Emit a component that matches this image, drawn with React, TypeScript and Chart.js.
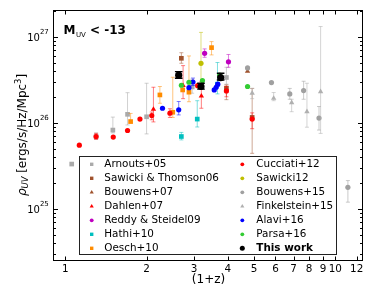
import React, { useEffect, useRef } from 'react';
import { Chart, registerables } from 'chart.js';

Chart.register(...registerables);

type Pt = [number, number, number | null, number | null];

// [1+z, rho_UV, lower, upper]
const arnouts05: Pt[] = [
  [1.056, 3.3e25, null, null],
  [1.30, 6.9e25, 6.4e25, 7.6e25],
  [1.50, 8.2e25, 7.6e25, 1.16e26],
  [1.70, 1.25e26, 9.4e25, 2.23e26],
  [2.0, 1.17e26, 7.4e25, 2.87e26],
  [2.95, 2.6e26, 2.2e26, 3.2e26],
  [3.95, 3.35e26, 2.8e26, 4.4e26],
];
const sawicki06: Pt[] = [
  [2.69, 5.6e26, 4.9e26, 6.5e26],
  [3.95, 2.5e26, 1.85e26, 2.75e26],
  [4.92, 1.15e26, 4.4e25, 2.5e26],
];
const bouwens07: Pt[] = [
  [4.73, 3.96e26, null, null],
];
const dahlen07: Pt[] = [
  [2.12, 1.43e26, 1.02e26, 2.58e26],
  [2.73, 2.7e26, 1.9e26, 4.6e26],
  [3.19, 2.04e26, 1.47e26, 3.0e26],
];
const reddy09: Pt[] = [
  [3.28, 6.4e26, 5.75e26, 7.2e26],
  [4.02, 5.1e26, 4.4e26, 6.2e26],
];
const hathi10: Pt[] = [
  [2.69, 6.9e25, 6.3e25, 7.7e25],
  [3.08, 1.10e26, 8.9e25, 1.8e26],
  [3.66, 2.8e26, 2.16e26, 5.0e26],
];
const oesch10: Pt[] = [
  [1.745, 1.03e26, 9.9e25, 1.28e26],
  [2.24, 2.1e26, 1.68e26, 2.63e26],
  [2.50, 1.32e26, 1.15e26, 3.37e26],
  [2.72, 2.4e26, null, null],
  [2.87, 2.26e26, 1.75e26, 5.96e26],
  [3.48, 7.45e26, 6.13e26, 8.75e26],
];
const cucciati12: Pt[] = [
  [1.127, 5.47e25, null, null],
  [1.30, 6.9e25, 6.4e25, 7.5e25],
  [1.505, 6.8e25, null, null],
  [1.70, 8.1e25, null, null],
  [1.89, 1.10e26, null, null],
  [2.09, 1.21e26, 1.08e26, 1.33e26],
  [2.44, 1.29e26, 1.15e26, 1.45e26],
  [3.09, 2.69e26, null, null],
  [3.95, 2.34e26, 2.0e26, 2.65e26],
  [4.92, 1.10e26, 8.5e25, 1.3e26],
];
const sawicki12: Pt[] = [
  [3.18, 4.9e26, 2.74e26, 1.12e27],
];
const bouwens15: Pt[] = [
  [4.73, 4.33e26, null, null],
  [5.80, 2.92e26, null, null],
  [6.78, 2.16e26, 1.87e26, 2.5e26],
  [7.63, 2.36e26, 1.87e26, 3.03e26],
  [8.70, 1.13e26, 8.2e25, 1.54e26],
  [11.13, 1.77e25, 1.19e25, 2.12e25],
];
const finkelstein15: Pt[] = [
  [4.92, 2.2e26, 1.9e26, 2.5e26],
  [5.91, 1.92e26, 1.8e26, 2.24e26],
  [6.89, 1.71e26, 1.34e26, 1.87e26],
  [7.85, 1.34e26, 8.85e25, 2.87e26],
  [8.82, 2.29e26, 7.5e25, 1.31e27],
];
const alavi16: Pt[] = [
  [2.29, 1.47e26, null, null],
  [2.63, 1.41e26, 1.23e26, 1.76e26],
  [2.87, 2.55e26, null, null],
  [2.97, 2.97e26, 2.7e26, 3.3e26],
  [3.56, 2.4e26, null, null],
  [3.62, 2.58e26, null, null],
  [3.67, 2.8e26, null, null],
];
const parsa16: Pt[] = [
  [2.69, 2.72e26, null, null],
  [2.87, 2.95e26, null, null],
  [3.22, 3.08e26, null, null],
  [3.73, 3.57e26, null, null],
  [4.73, 2.63e26, null, null],
];
const thisWork: Pt[] = [
  [2.63, 3.56e26, 3.28e26, 3.92e26],
  [3.18, 2.63e26, 2.45e26, 2.87e26],
  [3.76, 3.34e26, 3.13e26, 3.75e26],
];

const xTickValues = [1, 2, 3, 4, 5, 6, 7, 8, 9, 10, 12];
const yTickValues = [1e25, 1e26, 1e27];
const xMin = 0.908;
const xMax = 12.66;
const yMin = 2.53e24;
const yMax = 2.04e27;

type Shape = 'circle' | 'rect' | 'triangle';
interface Series { label: string; pts: Pt[]; color: string; bar: string; shape: Shape; r: number; lr: number; cap: number; bw: number; bold?: boolean; }

const series: Series[] = [
  { label: 'Arnouts+05', pts: arnouts05, color: '#aaaaaa', bar: 'rgba(170,170,170,0.55)', shape: 'rect', r: 3.3, lr: 2.4, cap: 2, bw: 1 },
  { label: 'Sawicki & Thomson06', pts: sawicki06, color: '#a0522d', bar: 'rgba(160,82,45,0.5)', shape: 'rect', r: 3.3, lr: 2.4, cap: 2, bw: 1 },
  { label: 'Bouwens+07', pts: bouwens07, color: '#a0522d', bar: 'rgba(160,82,45,0.5)', shape: 'triangle', r: 3.1, lr: 2.4, cap: 2, bw: 1 },
  { label: 'Dahlen+07', pts: dahlen07, color: '#ff0000', bar: 'rgba(255,0,0,0.5)', shape: 'triangle', r: 3.1, lr: 2.4, cap: 2, bw: 1 },
  { label: 'Reddy & Steidel09', pts: reddy09, color: '#bf00bf', bar: 'rgba(191,0,191,0.5)', shape: 'circle', r: 2.6, lr: 1.9, cap: 2, bw: 1 },
  { label: 'Hathi+10', pts: hathi10, color: '#00bfbf', bar: 'rgba(0,191,191,0.5)', shape: 'rect', r: 3.3, lr: 2.4, cap: 2, bw: 1 },
  { label: 'Oesch+10', pts: oesch10, color: '#ff8c00', bar: 'rgba(255,140,0,0.5)', shape: 'rect', r: 3.3, lr: 2.4, cap: 2, bw: 1 },
  { label: 'Cucciati+12', pts: cucciati12, color: '#ff0000', bar: 'rgba(255,0,0,0.5)', shape: 'circle', r: 2.6, lr: 1.9, cap: 2, bw: 1 },
  { label: 'Sawicki12', pts: sawicki12, color: '#bfbf00', bar: 'rgba(191,191,0,0.5)', shape: 'circle', r: 2.6, lr: 1.9, cap: 2, bw: 1 },
  { label: 'Bouwens+15', pts: bouwens15, color: '#a0a0a0', bar: 'rgba(160,160,160,0.55)', shape: 'circle', r: 2.6, lr: 1.9, cap: 2, bw: 1 },
  { label: 'Finkelstein+15', pts: finkelstein15, color: '#b0b0b0', bar: 'rgba(176,176,176,0.55)', shape: 'triangle', r: 3.1, lr: 2.4, cap: 2, bw: 1 },
  { label: 'Alavi+16', pts: alavi16, color: '#0000ff', bar: 'rgba(0,0,255,0.5)', shape: 'circle', r: 2.6, lr: 1.9, cap: 2, bw: 1 },
  { label: 'Parsa+16', pts: parsa16, color: '#33cc33', bar: 'rgba(51,204,51,0.5)', shape: 'circle', r: 2.6, lr: 1.9, cap: 2, bw: 1 },
  { label: 'This work', pts: thisWork, color: '#000000', bar: '#000000', shape: 'circle', r: 3.6, lr: 2.5, cap: 3.8, bw: 1.3, bold: true },
];

const FONT = 'DejaVu Sans';

function drawShape(ctx: CanvasRenderingContext2D, shape: Shape, x: number, y: number, r: number, color: string) {
  ctx.fillStyle = color;
  ctx.beginPath();
  if (shape === 'circle') {
    ctx.arc(x, y, r, 0, Math.PI * 2);
  } else if (shape === 'rect') {
    const s = r * Math.SQRT1_2;
    ctx.rect(x - s, y - s, 2 * s, 2 * s);
  } else {
    const a = (2 * Math.PI) / 3;
    let rad = 0;
    ctx.moveTo(x + Math.sin(rad) * r, y - Math.cos(rad) * r);
    rad += a;
    ctx.lineTo(x + Math.sin(rad) * r, y - Math.cos(rad) * r);
    rad += a;
    ctx.lineTo(x + Math.sin(rad) * r, y - Math.cos(rad) * r);
    ctx.closePath();
  }
  ctx.fill();
}

const errorBarPlugin = {
  id: 'errorBars',
  beforeDatasetDraw(chart: any, args: any) {
    const ds = chart.data.datasets[args.index];
    if (!ds.err) return;
    const { ctx, chartArea } = chart;
    const xs = chart.scales.x;
    const ys = chart.scales.y;
    ctx.save();
    ctx.beginPath();
    ctx.rect(chartArea.left, chartArea.top, chartArea.right - chartArea.left, chartArea.bottom - chartArea.top);
    ctx.clip();
    ctx.strokeStyle = ds.barColor;
    ctx.lineWidth = ds.barWidth;
    const cap = ds.capSize;
    ds.data.forEach((p: any, i: number) => {
      const [lo, hi] = ds.err[i];
      if (lo == null || hi == null) return;
      const px = xs.getPixelForValue(p.x);
      const y1 = ys.getPixelForValue(lo);
      const y2 = ys.getPixelForValue(hi);
      ctx.beginPath();
      ctx.moveTo(px, y1);
      ctx.lineTo(px, y2);
      ctx.moveTo(px - cap, y1);
      ctx.lineTo(px + cap, y1);
      ctx.moveTo(px - cap, y2);
      ctx.lineTo(px + cap, y2);
      ctx.stroke();
    });
    ctx.restore();
  },
};

const overlayPlugin = {
  id: 'overlay',
  afterDraw(chart: any) {
    const { ctx, chartArea } = chart;
    const xs = chart.scales.x;
    const ys = chart.scales.y;
    const L = 53.5, R = 362.5, T = 10.5, B = 260.5;
    ctx.save();

    // legend
    const bx = 79.5, by = 156.5, bw = 257, bh = 98;
    ctx.fillStyle = '#ffffff';
    ctx.fillRect(bx, by, bw, bh);
    ctx.strokeStyle = '#222222';
    ctx.lineWidth = 1;
    ctx.strokeRect(bx, by, bw, bh);
    series.forEach((s, i) => {
      const col = i < 7 ? 0 : 1;
      const row = i % 7;
      const y = 164.3 + row * 14;
      const mx = col === 0 ? 91.7 : 242.3;
      const tx = col === 0 ? 104.3 : 256.3;
      drawShape(ctx, s.shape, mx, y, s.lr, s.color);
      ctx.fillStyle = '#000';
      ctx.font = (s.bold ? 'bold ' : '') + '10.4px ' + FONT;
      ctx.textBaseline = 'middle';
      ctx.textAlign = 'left';
      ctx.fillText(s.label, tx, y);
    });

    // frame
    ctx.strokeStyle = '#000';
    ctx.lineWidth = 1;
    ctx.strokeRect(L, T, R - L, B - T);

    // x ticks (inward, top and bottom)
    ctx.beginPath();
    xTickValues.forEach((v) => {
      const x = Math.round(xs.getPixelForValue(v)) + 0.5;
      ctx.moveTo(x, B);
      ctx.lineTo(x, B - 4);
      ctx.moveTo(x, T);
      ctx.lineTo(x, T + 4);
    });
    // y ticks (major and minor, left and right)
    for (let n = 24; n <= 27; n++) {
      for (let k = 1; k <= 9; k++) {
        const v = k * Math.pow(10, n);
        if (v < yMin || v > yMax) continue;
        const y = Math.round(ys.getPixelForValue(v)) + 0.5;
        const len = k === 1 ? 4.5 : 2.5;
        ctx.moveTo(L, y);
        ctx.lineTo(L + len, y);
        ctx.moveTo(R, y);
        ctx.lineTo(R - len, y);
      }
    }
    ctx.stroke();

    // y tick labels 10^n
    ctx.fillStyle = '#000';
    yTickValues.forEach((v) => {
      const y = ys.getPixelForValue(v);
      const exp = String(Math.round(Math.log10(v)));
      ctx.textAlign = 'left';
      ctx.textBaseline = 'alphabetic';
      ctx.font = '7px ' + FONT;
      const we = ctx.measureText(exp).width;
      ctx.font = '10px ' + FONT;
      const wb = ctx.measureText('10').width;
      const xEnd = 48.8;
      ctx.fillText('10', xEnd - we - wb, y + 4);
      ctx.font = '7px ' + FONT;
      ctx.fillText(exp, xEnd - we, y - 2.3);
    });

    // y axis title
    ctx.save();
    ctx.translate(21.5, 135);
    ctx.rotate(-Math.PI / 2);
    const parts: [string, string, number][] = [
      ['ρ', 'italic 12px ' + FONT, 0],
      ['UV', 'italic 8.4px ' + FONT, 2.6],
      [' [ergs/s/Hz/Mpc', '12px ' + FONT, 0],
      ['3', '8.4px ' + FONT, -5],
      [']', '12px ' + FONT, 0],
    ];
    let total = 0;
    parts.forEach(([t, f]) => { ctx.font = f; total += ctx.measureText(t).width; });
    let cx = -total / 2;
    ctx.textAlign = 'left';
    ctx.textBaseline = 'alphabetic';
    parts.forEach(([t, f, dy]) => {
      ctx.font = f;
      ctx.fillText(t, cx, 4.2 + dy);
      cx += ctx.measureText(t).width;
    });
    ctx.restore();

    // annotation
    ctx.textAlign = 'left';
    ctx.textBaseline = 'alphabetic';
    ctx.font = 'bold 12px ' + FONT;
    let ax = 63.5;
    ctx.fillText('M', ax, 33.5);
    ax += ctx.measureText('M').width + 0.5;
    ctx.font = '7px ' + FONT;
    ctx.fillText('UV', ax, 36.5);
    ax += ctx.measureText('UV').width;
    ctx.font = 'bold 12px ' + FONT;
    ctx.fillText(' < -13', ax, 33.5);

    ctx.restore();
  },
};

export default function App() {
  const ref = useRef<HTMLCanvasElement>(null);
  useEffect(() => {
    if (!ref.current) return;
    Chart.defaults.font.family = FONT;
    const n = series.length;
    const chart = new Chart(ref.current, {
      type: 'scatter',
      data: {
        datasets: series.map((s, i) => ({
          label: s.label,
          data: s.pts.map((p) => ({ x: p[0], y: p[1] })),
          err: s.pts.map((p) => [p[2], p[3]]),
          barColor: s.bar,
          barWidth: s.bw,
          capSize: s.cap,
          pointStyle: s.shape,
          pointRadius: s.r,
          pointHoverRadius: s.r,
          backgroundColor: s.color,
          borderColor: s.color,
          borderWidth: 0,
          showLine: false,
          order: n - i,
        })) as any,
      },
      options: {
        responsive: false,
        animation: false,
        events: [],
        layout: { padding: { left: 0, top: 10, right: 11, bottom: 0 } },
        plugins: { legend: { display: false }, tooltip: { enabled: false }, title: { display: false } },
        scales: {
          x: {
            type: 'logarithmic',
            position: 'bottom',
            min: xMin,
            max: xMax,
            bounds: 'data',
            grid: { display: false, drawTicks: false },
            border: { display: false },
            afterBuildTicks: (axis: any) => { axis.ticks = xTickValues.map((v) => ({ value: v })); },
            afterFit: (axis: any) => { axis.height = 39; },
            ticks: {
              autoSkip: false,
              maxRotation: 0,
              minRotation: 0,
              padding: 3,
              color: '#000',
              font: { size: 10.4, family: FONT },
              callback: (v: any) => String(v),
            },
            title: { display: true, text: '(1+z)', color: '#000', font: { size: 12, family: FONT }, padding: { top: 0, bottom: 12 } },
          },
          y: {
            type: 'logarithmic',
            position: 'left',
            min: yMin,
            max: yMax,
            bounds: 'data',
            grid: { display: false, drawTicks: false },
            border: { display: false },
            ticks: { display: false },
            afterFit: (axis: any) => { axis.width = 54; },
          },
        },
      } as any,
      plugins: [errorBarPlugin, overlayPlugin],
    });
    return () => chart.destroy();
  }, []);
  return (
    <div style={{ position: 'fixed', left: 0, top: 0, width: 374, height: 299, background: '#ffffff' }}>
      <canvas ref={ref} width={374} height={299} style={{ display: 'block', width: 374, height: 299 }} />
    </div>
  );
}
